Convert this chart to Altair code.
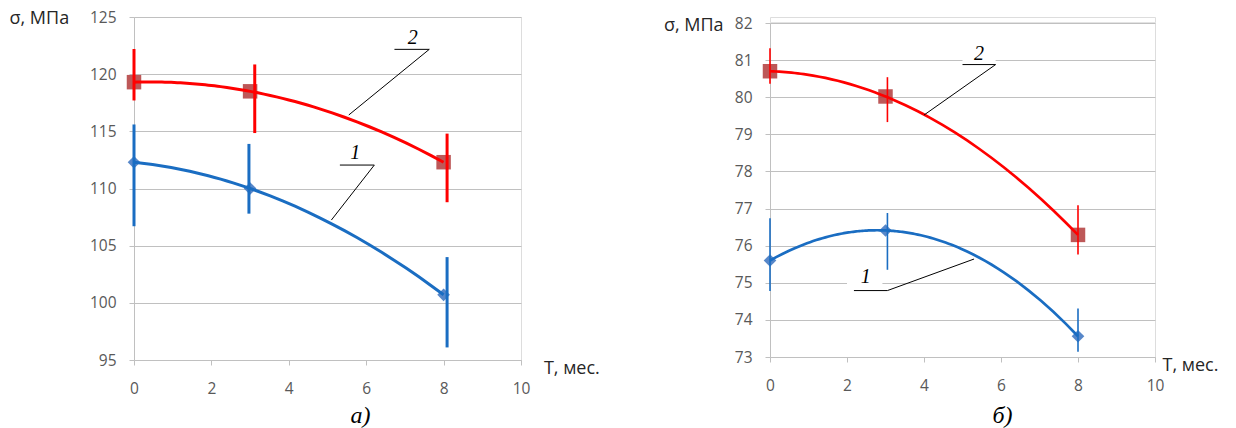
import altair as alt
import pandas as pd

# ---------------- data ----------------
T = [0, 3, 8]
series_names = ["1", "2"]

# panel а)
a_s1 = [112.3, 110.0, 100.7]
a_s1_lo = [106.7, 107.8, 96.1]
a_s1_hi = [115.6, 113.9, 104.0]
a_s1_ex = [0, 2.97, 8.09]
a_s2 = [119.3, 118.5, 112.3]
a_s2_lo = [117.7, 114.85, 108.8]
a_s2_hi = [122.2, 120.85, 114.8]
a_s2_ex = [0, 3.12, 8.09]

# panel б)
b_s1 = [75.6, 76.41, 73.56]
b_s1_lo = [74.78, 75.35, 73.14]
b_s1_hi = [76.74, 76.88, 74.31]
b_s1_ex = [0, 3.05, 8.0]
b_s2 = [80.70, 80.02, 76.29]
b_s2_lo = [80.36, 79.33, 75.76]
b_s2_hi = [81.32, 80.54, 77.09]
b_s2_ex = [0, 3.05, 8.0]

a_yticks = [95, 100, 105, 110, 115, 120, 125]
b_yticks = [73, 74, 75, 76, 77, 78, 79, 80, 81, 82]
x_ticks = [0, 2, 4, 6, 8, 10]

# curve labels (data coordinates)
a_lab = ["1", "2"]
a_lab_x = [5.72, 7.20]
a_lab_y = [113.07, 123.13]
a_ul_x1 = [5.32, 6.73]
a_ul_x2 = [6.21, 7.63]
a_ul_y = [112.05, 122.17]
a_end_x = [5.10, 5.55]
a_end_y = [107.24, 116.43]

b_lab = ["1", "2"]
b_lab_x = [2.49, 5.43]
b_lab_y = [75.15, 81.16]
b_ul_x1 = [2.18, 5.00]
b_ul_x2 = [3.05, 5.86]
b_ul_y = [74.79, 80.88]
b_end_x = [5.30, 4.00]
b_end_y = [75.64, 79.52]
# white boxes behind labels in panel б)
b_box_x1 = [2.00, 5.00]
b_box_x2 = [2.92, 5.86]
b_box_y1 = [74.92, 80.93]
b_box_y2 = [75.50, 81.45]

# ---------------- styling ----------------
LINE_COLORS = ["#1a6dc2", "#ff0000"]
MARK_COLORS = ["#3a72c0", "#b23b3b"]
GRID = "#c0c0c0"
SANS = "Open Sans"
SERIF = "Liberation Serif"


def build_frames(s1, s1lo, s1hi, s1ex, s2, s2lo, s2hi, s2ex):
    pts = pd.DataFrame({
        "T": T + T,
        "sigma": s1 + s2,
        "series": ["1"] * 3 + ["2"] * 3,
    })
    err = pd.DataFrame({
        "T": s1ex + s2ex,
        "sigma": s1lo + s2lo,
        "hi": s1hi + s2hi,
        "series": ["1"] * 3 + ["2"] * 3,
    })
    return pts, err


def build_leaders(lab, ux1, ux2, uy, ex, ey):
    rows = []
    for i, l in enumerate(lab):
        rows.append({"lab": l, "k": 0, "T": ux1[i], "sigma": uy[i]})
        rows.append({"lab": l, "k": 1, "T": ux2[i], "sigma": uy[i]})
        rows.append({"lab": l, "k": 2, "T": ex[i], "sigma": ey[i]})
    return pd.DataFrame(rows)


def make_panel(pts, err, labels, leaders, boxes, ydom, yvals, W, H, p):
    x_axis = alt.Axis(
        values=x_ticks, tickCount=len(x_ticks), grid=False, title="T, мес.",
        titleX=W + p["tx"], titleY=p["ty"], titleAlign="left",
        titleBaseline="middle", titleAngle=0,
        titleFont=SANS, titleFontSize=18, titleFontWeight="normal",
        titleColor="#262626",
        labelFont=SANS, labelFontSize=15.5, labelColor="#595959",
        labelPadding=16.5, labelFlush=False, labelOverlap=False,
        tickSize=5, tickColor=GRID, domainColor=GRID, format="d",
    )
    y_axis = alt.Axis(
        values=yvals, tickCount=len(yvals), grid=True, gridColor=GRID, gridWidth=1,
        title="σ, МПа", titleAngle=0, titleX=p["yx"], titleY=p["yy"],
        titleAlign="left", titleBaseline="middle",
        titleFont=SANS, titleFontSize=18, titleFontWeight="normal",
        titleColor="#262626",
        labelFont=SANS, labelFontSize=15.5, labelColor="#595959",
        labelPadding=13, labelFlush=False, labelOverlap=False,
        tickSize=5, tickColor=GRID, domainColor=GRID, format="d",
    )
    X = alt.X("T:Q", scale=alt.Scale(domain=[0, 10], nice=False, zero=False), axis=x_axis)
    Y = alt.Y("sigma:Q", scale=alt.Scale(domain=ydom, nice=False, zero=False), axis=y_axis)
    Xp = alt.X("T:Q")
    Yp = alt.Y("sigma:Q")

    stroke = alt.Stroke("series:N", scale=alt.Scale(domain=series_names, range=LINE_COLORS), legend=None)
    fill = alt.Fill("series:N", scale=alt.Scale(domain=series_names, range=MARK_COLORS), legend=None)
    shape = alt.Shape("series:N", scale=alt.Scale(domain=series_names, range=["diamond", "square"]), legend=None)

    base = alt.Chart(pts).mark_point(filled=True, opacity=0.85, strokeWidth=0).encode(
        x=X, y=Y, fill=fill, shape=shape,
        size=alt.Size("series:N", scale=alt.Scale(domain=series_names, range=p["msize"]), legend=None),
    )
    curve = alt.Chart(pts).transform_regression(
        "T", "sigma", groupby=["series"], method="poly", order=2
    ).mark_line(strokeWidth=p["lw"]).encode(x=Xp, y=Yp, stroke=stroke)
    bars = alt.Chart(err).mark_rule(strokeWidth=p["ew"]).encode(
        x=Xp, y=Yp, y2="hi:Q", stroke=stroke)
    lead = alt.Chart(leaders).mark_line(color="black", strokeWidth=1).encode(
        x=Xp, y=Yp, detail="lab:N", order="k:Q")
    txt = alt.Chart(labels).mark_text(
        font=SERIF, fontStyle="italic", fontSize=20, color="black", baseline="middle"
    ).encode(x=Xp, y=Yp, text="lab:N")

    layers = []
    if boxes is not None:
        layers.append(alt.Chart(boxes).mark_rect(fill="white").encode(
            x=Xp, x2="T2:Q", y=Yp, y2="sigma2:Q"))
    layers += [base, curve, bars, lead, txt]

    return alt.layer(*layers).properties(
        width=W, height=H,
        title=alt.TitleParams(
            text=p["cap"], orient="bottom", anchor="middle", frame="group",
            dx=p["cdx"], offset=p["coff"], font=SERIF, fontStyle="italic",
            fontWeight="normal", fontSize=24, color="black"),
    )


a_pts, a_err = build_frames(a_s1, a_s1_lo, a_s1_hi, a_s1_ex, a_s2, a_s2_lo, a_s2_hi, a_s2_ex)
b_pts, b_err = build_frames(b_s1, b_s1_lo, b_s1_hi, b_s1_ex, b_s2, b_s2_lo, b_s2_hi, b_s2_ex)
a_labels = pd.DataFrame({"lab": a_lab, "T": a_lab_x, "sigma": a_lab_y})
b_labels = pd.DataFrame({"lab": b_lab, "T": b_lab_x, "sigma": b_lab_y})
a_leaders = build_leaders(a_lab, a_ul_x1, a_ul_x2, a_ul_y, a_end_x, a_end_y)
b_leaders = build_leaders(b_lab, b_ul_x1, b_ul_x2, b_ul_y, b_end_x, b_end_y)
b_boxes = pd.DataFrame({"T": b_box_x1, "T2": b_box_x2, "sigma": b_box_y1, "sigma2": b_box_y2})

left = make_panel(
    a_pts, a_err, a_labels, a_leaders, None, [95, 125], a_yticks, 387, 343,
    {"tx": 22.4, "ty": 8.4, "yx": -125, "yy": 1.4, "msize": [160, 210],
     "lw": 3, "ew": 3, "cap": "а)", "cdx": 33, "coff": 7},
)
right = make_panel(
    b_pts, b_err, b_labels, b_leaders, b_boxes, [73, 82], b_yticks, 385, 334,
    {"tx": 7, "ty": 8, "yx": -106.6, "yy": 2.6, "msize": [80, 110],
     "lw": 2.7, "ew": 1.6, "cap": "б)", "cdx": 40, "coff": 9.5},
)

# empty strip that lowers panel б) relative to panel а)
spacer = alt.Chart(pd.DataFrame({"s": [0]})).mark_point(opacity=0, size=1).encode(
    x=alt.value(0), y=alt.value(0)
).properties(width=385, height=5.2)

right_col = alt.vconcat(spacer, right, spacing=0, bounds="flush")

chart = alt.hconcat(
    left, right_col, spacing=62,
    padding={"left": 0, "top": 0, "right": 0, "bottom": 0},
).configure_view(stroke=None).configure(background="white")

chart.save("out.html", embed_options={"renderer": "svg", "actions": False})
